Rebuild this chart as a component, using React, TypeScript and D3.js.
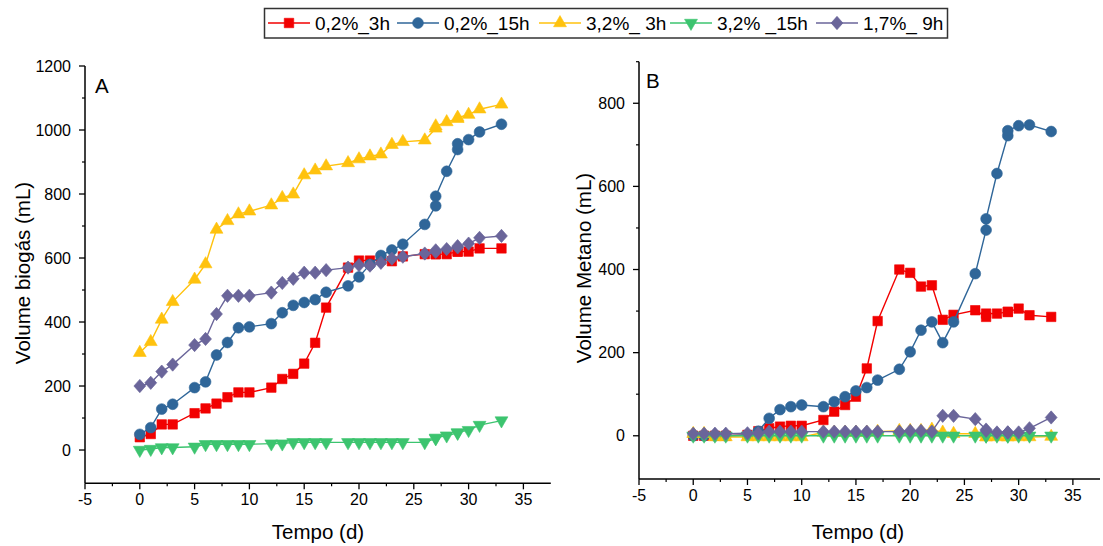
import React from "react";
import * as d3 from "d3";

// ---------- DATA ----------
const days = [0, 1, 2, 3, 5, 6, 7, 8, 9, 10, 12, 13, 14, 15, 16, 17, 19, 20, 21, 22, 23, 24, 26, 27, 27, 28, 29, 29, 30, 31, 33];

const seriesNames = ["0,2%_3h", "0,2%_15h", "3,2%_ 3h", "3,2% _15h", "1,7%_ 9h"];

// Panel A: Volume biogás (mL)
const biogas_02_3h = [40, 50, 80, 80, 115, 130, 145, 165, 180, 180, 195, 222, 238, 270, 335, 445, 570, 592, 592, 595, 590, 605, 612, 612, 612, 612, 620, 620, 620, 630, 630];
const biogas_02_15h = [49, 70, 128, 143, 195, 213, 297, 336, 382, 385, 395, 429, 452, 461, 470, 493, 513, 541, 580, 608, 625, 643, 705, 763, 793, 871, 939, 957, 970, 994, 1018];
const biogas_32_3h = [304, 338, 408, 463, 533, 581, 689, 716, 737, 746, 765, 788, 799, 859, 874, 887, 897, 909, 918, 924, 954, 963, 968, 1005, 1012, 1025, 1035, 1039, 1048, 1065, 1080];
const biogas_32_15h = [0, 3, 8, 8, 10, 18, 18, 18, 18, 18, 20, 20, 24, 24, 24, 24, 24, 24, 24, 24, 24, 24, 24, 36, 38, 45, 53, 55, 62, 78, 92];
const biogas_17_9h = [200, 210, 245, 267, 328, 347, 425, 482, 482, 482, 492, 522, 535, 554, 554, 562, 570, 578, 576, 585, 598, 604, 614, 619, 624, 628, 633, 637, 645, 663, 669];

// Panel B: Volume Metano (mL)
const metano_02_3h = [0, 0, 0, 0, 2, 11, 18, 22, 24, 24, 38, 58, 74, 94, 162, 276, 400, 392, 359, 362, 279, 291, 302, 286, 294, 294, 298, 298, 306, 290, 286];
const metano_02_15h = [0, 0, 0, 0, 2, 11, 42, 63, 70, 74, 70, 82, 94, 108, 116, 134, 160, 202, 254, 274, 224, 274, 390, 495, 522, 631, 722, 734, 746, 748, 732];
const metano_32_3h = [5, 5, -3, -3, -3, -3, -3, -3, -3, -3, 8, 8, 8, 8, 8, 10, 12, 12, 12, 15, 8, 5, 5, -3, -3, -3, -3, -3, -3, -3, -2];
const metano_32_15h = [0, 0, 0, 0, 0, 0, 0, 0, 0, 0, 0, 0, 0, 0, 0, 0, 0, 0, 0, 0, 0, 0, 0, 0, 0, 0, 0, 0, 0, 0, 0];
const metano_17_9h = [5, 5, 5, 5, 6, 6, 10, 10, 10, 10, 10, 10, 10, 10, 10, 10, 10, 12, 12, 10, 48, 48, 40, 15, 12, 8, 8, 8, 8, 18, 44];

const xTicks = [-5, 0, 5, 10, 15, 20, 25, 30, 35];
const xMinorTicks = [-2.5, 2.5, 7.5, 12.5, 17.5, 22.5, 27.5, 32.5];
const yTicksA = [0, 200, 400, 600, 800, 1000, 1200];
const yMinorA = [100, 300, 500, 700, 900, 1100];
const yTicksB = [0, 200, 400, 600, 800];
const yMinorB = [100, 300, 500, 700, 900];

// ---------- STYLE ----------
const colors = ["#f20000", "#2f6699", "#ffc20e", "#3cc46f", "#6a659a"];
const shapes = ["square", "circle", "triangle", "triangleDown", "diamond"];
const FONT = "'Liberation Sans', Arial, Helvetica, sans-serif";

function markerPath(shape: string): { d: string; rot: number } {
  switch (shape) {
    case "square":
      return { d: d3.symbol().type(d3.symbolSquare).size(90)() as string, rot: 0 };
    case "circle":
      return { d: d3.symbol().type(d3.symbolCircle).size(92)() as string, rot: 0 };
    case "triangle":
      return { d: d3.symbol().type(d3.symbolTriangle).size(72)() as string, rot: 0 };
    case "triangleDown":
      return { d: d3.symbol().type(d3.symbolTriangle).size(72)() as string, rot: 180 };
    default:
      return { d: d3.symbol().type(d3.symbolSquare).size(70)() as string, rot: 45 };
  }
}

function Marker({ shape, x, y, color }: { shape: string; x: number; y: number; color: string }) {
  const m = markerPath(shape);
  const sy = shape === "diamond" ? 1.12 : 1;
  return (
    <path
      d={m.d}
      transform={`translate(${x},${y}) scale(1,${sy}) rotate(${m.rot})`}
      fill={color}
      stroke={color}
      strokeWidth={0.6}
    />
  );
}

type PanelProps = {
  x0: number;
  x1: number;
  yTop: number;
  yBottom: number;
  yMax: number;
  yMin: number;
  yTicks: number[];
  yMinor: number[];
  data: number[][];
  label: string;
  labelPos: [number, number];
  yTitle: string;
  yTitleX: number;
  yTitleY: number;
  xTitleX: number;
};

function Panel(p: PanelProps) {
  const xs = d3.scaleLinear().domain([-5, 37.5]).range([p.x0, p.x1]);
  const ys = d3.scaleLinear().domain([p.yMin, p.yMax]).range([p.yBottom, p.yTop]);
  const line = d3
    .line<number>()
    .x((_, i) => xs(days[i]))
    .y((v) => ys(v));
  const axisY = p.yBottom;
  return (
    <g>
      {p.data.map((vals, si) => (
        <g key={si}>
          <path d={line(vals) as string} fill="none" stroke={colors[si]} strokeWidth={1.4} />
          {vals.map((v, i) => (
            <Marker key={i} shape={shapes[si]} x={xs(days[i])} y={ys(v)} color={colors[si]} />
          ))}
        </g>
      ))}
      <line x1={p.x0} x2={p.x0} y1={p.yTop} y2={axisY} stroke="#000" strokeWidth={1.5} />
      <line x1={p.x0} x2={p.x1} y1={axisY} y2={axisY} stroke="#000" strokeWidth={1.5} />
      {p.yTicks.map((t) => (
        <g key={"yt" + t}>
          <line x1={p.x0 - 6} x2={p.x0} y1={ys(t)} y2={ys(t)} stroke="#000" strokeWidth={1.3} />
          <text x={p.x0 - 14} y={ys(t) + 5.7} textAnchor="end" fontFamily={FONT} fontSize={16} fill="#000">
            {t}
          </text>
        </g>
      ))}
      {p.yMinor.map((t) => (
        <line key={"ym" + t} x1={p.x0 - 3} x2={p.x0} y1={ys(t)} y2={ys(t)} stroke="#000" strokeWidth={1.2} />
      ))}
      {xTicks.map((t) => (
        <g key={"xt" + t}>
          <line x1={xs(t)} x2={xs(t)} y1={axisY} y2={axisY + 6} stroke="#000" strokeWidth={1.3} />
          <text x={xs(t)} y={axisY + 22} textAnchor="middle" fontFamily={FONT} fontSize={16} fill="#000">
            {t}
          </text>
        </g>
      ))}
      {xMinorTicks.map((t) => (
        <line key={"xm" + t} x1={xs(t)} x2={xs(t)} y1={axisY} y2={axisY + 3} stroke="#000" strokeWidth={1.2} />
      ))}
      <text x={p.labelPos[0]} y={p.labelPos[1]} fontFamily={FONT} fontSize={20.5} fill="#000">
        {p.label}
      </text>
      <text
        transform={`translate(${p.yTitleX},${p.yTitleY}) rotate(-90)`}
        textAnchor="middle"
        fontFamily={FONT}
        fontSize={20.5}
        fill="#000"
      >
        {p.yTitle}
      </text>
      <text x={p.xTitleX} y={539} textAnchor="middle" fontFamily={FONT} fontSize={20.5} fill="#000">
        Tempo (d)
      </text>
    </g>
  );
}

const legendLayout = [
  { l0: 268, l1: 310, tx: 315 },
  { l0: 397, l1: 439, tx: 444 },
  { l0: 539, l1: 581, tx: 586 },
  { l0: 670, l1: 712, tx: 717 },
  { l0: 816, l1: 858, tx: 863 },
];

export default function App() {
  const dataA = [biogas_02_3h, biogas_02_15h, biogas_32_3h, biogas_32_15h, biogas_17_9h];
  const dataB = [metano_02_3h, metano_02_15h, metano_32_3h, metano_32_15h, metano_17_9h];
  return (
    <div style={{ position: "absolute", left: 0, top: 0, width: 1103, height: 546, overflow: "hidden" }}>
      <svg width={1103} height={546} style={{ display: "block", background: "#fff" }}>
        <rect x={0} y={0} width={1103} height={546} fill="#fff" />
        <rect x={264.5} y={8.5} width={683} height={29.5} fill="#fff" stroke="#333" strokeWidth={1.5} />
        {seriesNames.map((name, i) => {
          const L = legendLayout[i];
          return (
            <g key={name}>
              <line x1={L.l0} x2={L.l1} y1={23} y2={23} stroke={colors[i]} strokeWidth={1.5} />
              <Marker shape={shapes[i]} x={(L.l0 + L.l1) / 2} y={23} color={colors[i]} />
              <text x={L.tx} y={30} fontFamily={FONT} fontSize={19} fill="#000">
                {name}
              </text>
            </g>
          );
        })}
        <Panel
          x0={85}
          x1={550.8}
          yTop={66}
          yBottom={483.3}
          yMax={1200}
          yMin={-104}
          yTicks={yTicksA}
          yMinor={yMinorA}
          data={dataA}
          label="A"
          labelPos={[95, 93]}
          yTitle="Volume biogás (mL)"
          yTitleX={30}
          yTitleY={273}
          xTitleX={318}
        />
        <Panel
          x0={639}
          x1={1100}
          yTop={61.7}
          yBottom={479}
          yMax={900}
          yMin={-104}
          yTicks={yTicksB}
          yMinor={yMinorB}
          data={dataB}
          label="B"
          labelPos={[646, 88]}
          yTitle="Volume Metano (mL)"
          yTitleX={591}
          yTitleY={268}
          xTitleX={858}
        />
      </svg>
    </div>
  );
}
